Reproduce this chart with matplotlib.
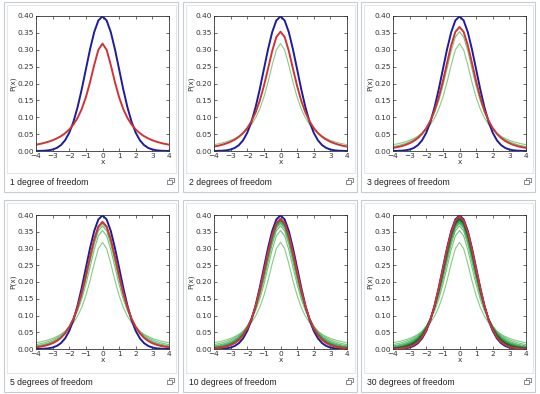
import numpy as np
import matplotlib
matplotlib.use("Agg")
import matplotlib.pyplot as plt
from matplotlib.patches import Rectangle

# x grid (right half, curves are symmetric about 0)
x_half = [0.0, 0.25, 0.5, 0.75, 1.0, 1.25, 1.5, 1.75, 2.0, 2.25, 2.5, 2.75, 3.0, 3.25, 3.5, 3.75, 4.0]

# normal density
normal = [0.3989, 0.3867, 0.3521, 0.3011, 0.2420, 0.1826, 0.1295, 0.0863, 0.0540, 0.0317, 0.0175, 0.0091, 0.0044, 0.0020, 0.0009, 0.0004, 0.0001]

# Student t densities by degrees of freedom
t1 = [0.3183, 0.2996, 0.2546, 0.2037, 0.1592, 0.1242, 0.0979, 0.0784, 0.0637, 0.0525, 0.0439, 0.0372, 0.0318, 0.0275, 0.0240, 0.0211, 0.0187]
t2 = [0.3536, 0.3376, 0.2963, 0.2438, 0.1925, 0.1487, 0.1141, 0.0878, 0.0680, 0.0533, 0.0422, 0.0338, 0.0274, 0.0225, 0.0186, 0.0155, 0.0131]
t3 = [0.3676, 0.3527, 0.3132, 0.2606, 0.2067, 0.1589, 0.1200, 0.0900, 0.0675, 0.0509, 0.0387, 0.0297, 0.0230, 0.0180, 0.0142, 0.0114, 0.0092]
t4 = [0.3750, 0.3607, 0.3223, 0.2699, 0.2147, 0.1644, 0.1229, 0.0905, 0.0663, 0.0485, 0.0357, 0.0264, 0.0197, 0.0148, 0.0113, 0.0087, 0.0067]
t5 = [0.3796, 0.3657, 0.3279, 0.2757, 0.2197, 0.1679, 0.1245, 0.0905, 0.0651, 0.0466, 0.0333, 0.0239, 0.0173, 0.0126, 0.0092, 0.0069, 0.0051]
t6 = [0.3827, 0.3691, 0.3318, 0.2797, 0.2231, 0.1703, 0.1256, 0.0904, 0.0640, 0.0450, 0.0315, 0.0220, 0.0155, 0.0110, 0.0078, 0.0056, 0.0041]
t7 = [0.3850, 0.3715, 0.3346, 0.2826, 0.2257, 0.1720, 0.1263, 0.0902, 0.0631, 0.0437, 0.0300, 0.0206, 0.0141, 0.0097, 0.0067, 0.0047, 0.0033]
t8 = [0.3867, 0.3734, 0.3367, 0.2848, 0.2276, 0.1733, 0.1268, 0.0899, 0.0624, 0.0426, 0.0288, 0.0194, 0.0130, 0.0088, 0.0059, 0.0040, 0.0028]
t9 = [0.3880, 0.3748, 0.3384, 0.2866, 0.2291, 0.1743, 0.1272, 0.0897, 0.0617, 0.0417, 0.0278, 0.0184, 0.0121, 0.0080, 0.0053, 0.0035, 0.0023]
t10 = [0.3891, 0.3760, 0.3397, 0.2880, 0.2304, 0.1751, 0.1275, 0.0895, 0.0611, 0.0409, 0.0269, 0.0176, 0.0114, 0.0074, 0.0048, 0.0031, 0.0020]
t15 = [0.3923, 0.3795, 0.3438, 0.2923, 0.2341, 0.1776, 0.1283, 0.0888, 0.0592, 0.0383, 0.0242, 0.0150, 0.0091, 0.0055, 0.0033, 0.0020, 0.0012]
t20 = [0.3940, 0.3813, 0.3458, 0.2945, 0.2360, 0.1788, 0.1286, 0.0883, 0.0581, 0.0369, 0.0227, 0.0136, 0.0080, 0.0046, 0.0026, 0.0015, 0.0008]
t30 = [0.3956, 0.3831, 0.3479, 0.2967, 0.2380, 0.1801, 0.1290, 0.0877, 0.0568, 0.0353, 0.0211, 0.0121, 0.0068, 0.0037, 0.0020, 0.0010, 0.0005]

dof_list = [1, 2, 3, 4, 5, 6, 7, 8, 9, 10, 15, 20, 30]
t_curves = [t1, t2, t3, t4, t5, t6, t7, t8, t9, t10, t15, t20, t30]

panel_dof = [1, 2, 3, 5, 10, 30]
captions = ["1 degree of freedom", "2 degrees of freedom", "3 degrees of freedom",
            "5 degrees of freedom", "10 degrees of freedom", "30 degrees of freedom"]

y_ticks = [0.00, 0.05, 0.10, 0.15, 0.20, 0.25, 0.30, 0.35, 0.40]
x_ticks = [-4, -3, -2, -1, 0, 1, 2, 3, 4]


def full(vals):
    # mirror the half curve onto negative x
    v = np.array(vals)
    return np.concatenate((v[:0:-1], v))


xh = np.array(x_half)
x = np.concatenate((-xh[:0:-1], xh))

W, H = 540, 394
fig = plt.figure(figsize=(W / 100, H / 100), dpi=100, facecolor="white")

# gallery boxes (pixel coords, top-left origin)
box_left = [4, 183, 361]
box_top = [2, 200]
box_w = 174
box_h = [190, 192]
axes_left = [36, 214, 393]
axes_top = [16, 215]
axes_w = 133
axes_h = [135, 134]
thumb_bottom = [173, 373]


def px_rect(x0, y0, w, h, **kw):
    return Rectangle((x0 / W, 1 - (y0 + h) / H), w / W, h / H,
                     transform=fig.transFigure, **kw)


greens = plt.get_cmap("Greens")

for i, n in enumerate(panel_dof):
    r, c = divmod(i, 3)
    bl, bt = box_left[c], box_top[r]
    fig.patches.append(px_rect(bl, bt, box_w, box_h[r], facecolor="white",
                               edgecolor="#c8ccd1", lw=0.8, zorder=-2))
    fig.patches.append(px_rect(bl + 3, bt + 3, box_w - 5, thumb_bottom[r] - bt - 3,
                               facecolor="white", edgecolor="#e4e6ea", lw=0.8, zorder=-1))
    # caption
    fig.text((bl + 6) / W, 1 - (thumb_bottom[r] + 9.5) / H, captions[i],
             fontsize=6.2, family="Liberation Sans", color="#202122", va="center")
    # small enlarge icon
    ix, iy = bl + box_w - 11, thumb_bottom[r] + 5
    fig.patches.append(px_rect(ix + 2, iy, 5, 4, facecolor="none", edgecolor="#72777d", lw=0.6))
    fig.patches.append(px_rect(ix, iy + 2, 5, 4, facecolor="white", edgecolor="#72777d", lw=0.6))

    ax = fig.add_axes([axes_left[c] / W, 1 - (axes_top[r] + axes_h[r]) / H,
                       axes_w / W, axes_h[r] / H])
    ax.patch.set_alpha(0)

    prev = [d for d in dof_list if d < n]
    for d in prev:
        k = dof_list.index(d)
        col = greens(0.45 + 0.5 * k / (len(dof_list) - 2))
        ax.plot(x, full(t_curves[k]), color=col, lw=0.8)
    ax.plot(x, full(normal), color="#1c1c9c", lw=1.4)
    ax.plot(x, full(t_curves[dof_list.index(n)]), color="#d03434", lw=1.4)

    ax.set_xlim(-4, 4)
    ax.set_ylim(0, 0.40)
    ax.set_xticks(x_ticks)
    ax.set_xticklabels(["\u2212%d" % -t if t < 0 else "%d" % t for t in x_ticks])
    ax.set_yticks(y_ticks)
    ax.set_yticklabels(["%.2f" % t for t in y_ticks])
    ax.tick_params(direction="in", length=2.5, width=0.5, labelsize=5.3,
                   top=True, right=True, pad=1.5, colors="#333333")
    for s in ax.spines.values():
        s.set_linewidth(0.6)
        s.set_color("#333333")
    ax.set_xlabel("x", fontsize=5.3, labelpad=0, color="#333333")
    ax.set_ylabel("P(x)", fontsize=5.3, labelpad=1, color="#333333")

fig.savefig("out.png", dpi=100, facecolor="white")
